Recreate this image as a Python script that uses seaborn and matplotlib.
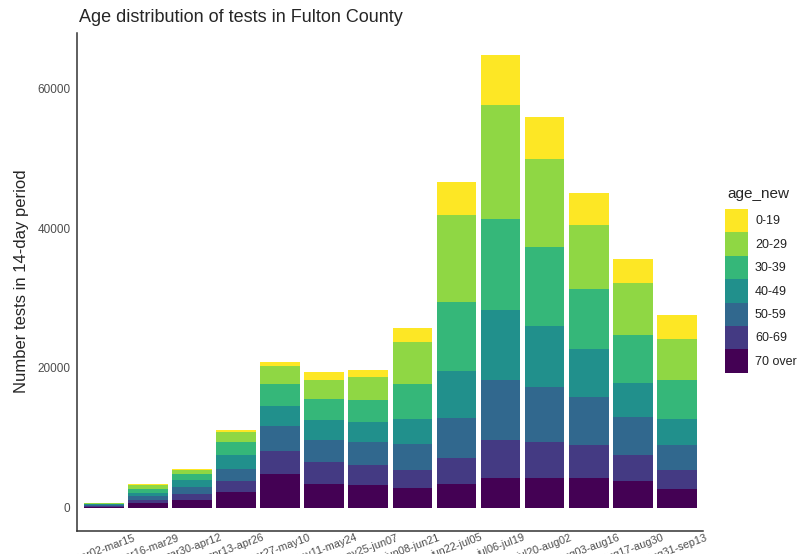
import pandas as pd
import matplotlib.pyplot as plt
import seaborn as sns
from matplotlib.patches import Patch

# periodi di 14 giorni
periods = ["mar02-mar15", "mar16-mar29", "mar30-apr12", "apr13-apr26",
           "apr27-may10", "may11-may24", "may25-jun07", "jun08-jun21",
           "jun22-jul05", "jul06-jul19", "jul20-aug02", "aug03-aug16",
           "aug17-aug30", "aug31-sep13"]

age_groups = ["0-19", "20-29", "30-39", "40-49", "50-59", "60-69", "70 over"]

tests_0_19 = [40, 140, 240, 240, 600, 1100, 1050, 2050, 4670, 7140, 5950, 4520, 3480, 3330]
tests_20_29 = [60, 670, 570, 1430, 2520, 2760, 3240, 5950, 12520, 16190, 12620, 9140, 7380, 5950]
tests_30_39 = [80, 520, 860, 1900, 3100, 3050, 3240, 4950, 9860, 13100, 11330, 8570, 6860, 5480]
tests_40_49 = [90, 480, 950, 1900, 2950, 2860, 2860, 3620, 6670, 10000, 8670, 6900, 4900, 3710]
tests_50_59 = [110, 480, 950, 1810, 3570, 3140, 3190, 3670, 5710, 8570, 7860, 6810, 5380, 3670]
tests_60_69 = [120, 480, 860, 1520, 3240, 3100, 2860, 2620, 3710, 5380, 5140, 4760, 3810, 2620]
tests_70_over = [210, 710, 1190, 2290, 4860, 3430, 3330, 2860, 3430, 4290, 4290, 4290, 3810, 2760]

yticks = [0, 20000, 40000, 60000]

df = pd.DataFrame({
    "period": periods,
    "0-19": tests_0_19,
    "20-29": tests_20_29,
    "30-39": tests_30_39,
    "40-49": tests_40_49,
    "50-59": tests_50_59,
    "60-69": tests_60_69,
    "70 over": tests_70_over,
})

# viridis discreto come in ggplot (estremi inclusi)
viridis7 = ["#FDE725", "#8FD744", "#35B779", "#21908C", "#31688E", "#443A83", "#440154"]
colors = dict(zip(age_groups, viridis7))

sns.set_style("white")
plt.rcParams['font.family'] = ['Liberation Sans', 'DejaVu Sans']

fig = plt.figure(figsize=(8.02, 5.54), dpi=100)
ax = fig.add_axes([0.0965, 0.0422, 0.7805, 0.8988])

# barre impilate: somme cumulative dal basso (70 over) verso l'alto
bottom_up = age_groups[::-1]
cum = df[bottom_up].cumsum(axis=1)
cum["period"] = df["period"]
for grp in age_groups:
    sns.barplot(data=cum, x="period", y=grp, order=periods,
                color=colors[grp], saturation=1, width=0.9,
                linewidth=0, ax=ax)

ax.set_xlim(-0.6, len(periods) - 0.4)
total_max = cum["0-19"].max()
ax.set_ylim(-total_max * 0.05, total_max * 1.05)
ax.set_yticks(yticks)
ax.set_yticklabels([str(v) for v in yticks])

for side in ["top", "right"]:
    ax.spines[side].set_visible(False)
for side in ["left", "bottom"]:
    ax.spines[side].set_color("#333333")
    ax.spines[side].set_linewidth(1.1)

ax.tick_params(axis="both", length=3, width=0.8, color="#333333",
               labelcolor="#4D4D4D", labelsize=8.5, pad=2)
ax.tick_params(axis="x", labelsize=7.8, pad=-1.5)
plt.setp(ax.get_xticklabels(), rotation=20, ha="center", va="top")

ax.set_xlabel("")
ax.set_ylabel("Number tests in 14-day period", fontsize=12, labelpad=6)

fig.text(0.0985, 1 - 17 / 554, "Age distribution of tests in Fulton County",
         fontsize=13, ha="left", va="center")

# legenda (titolo a parte per controllare la spaziatura)
fig.text(727 / 802, 1 - 194 / 554, "age_new", fontsize=11,
         ha="left", va="center")
handles = [Patch(facecolor=colors[g], edgecolor="none", label=g) for g in age_groups]
leg = ax.legend(handles=handles, loc="upper left",
                bbox_to_anchor=(725 / 802, 1 - 209 / 554),
                bbox_transform=fig.transFigure, frameon=False,
                fontsize=9, handlelength=1.85, handleheight=2.5,
                labelspacing=0, handletextpad=0.55,
                borderpad=0, borderaxespad=0)
for t in leg.get_texts():
    t.set_color("#222222")

plt.savefig("out.png", dpi=100)
plt.close()
